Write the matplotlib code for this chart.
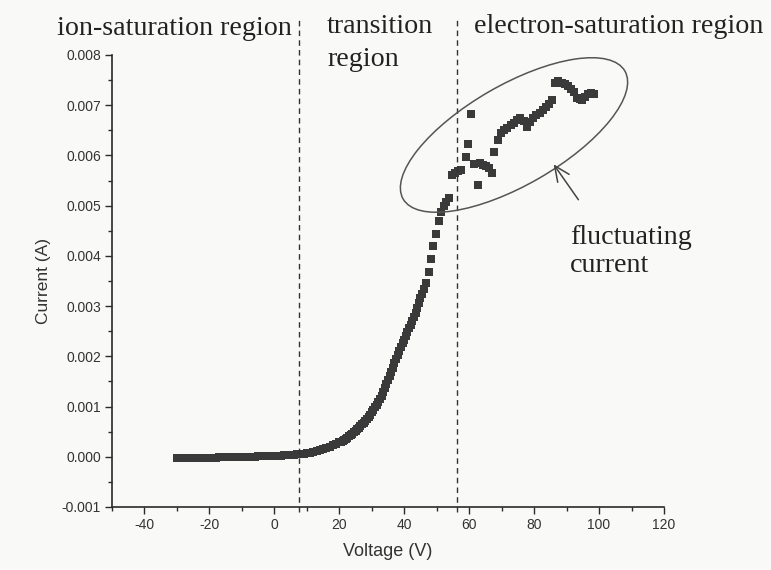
import matplotlib
matplotlib.use("Agg")
import matplotlib.pyplot as plt
from matplotlib.patches import Ellipse, FancyArrowPatch
from matplotlib.ticker import MultipleLocator, FuncFormatter

plt.rcParams['axes.unicode_minus'] = False
plt.rcParams['font.family'] = ['Liberation Sans', 'DejaVu Sans']

# ---- data ----
voltage_sweep = [-30, -29, -28, -27, -26, -25, -24, -23, -22, -21,
                 -20, -19, -18, -17, -16, -15, -14, -13, -12, -11,
                 -10, -9, -8, -7, -6, -5, -4, -3, -2, -1,
                 0, 1, 2, 3, 4, 5, 6, 7, 8, 9,
                 10, 11, 12, 13, 14, 15, 16, 17, 18, 19,
                 20, 20.5, 21, 21.5, 22, 22.5, 23, 23.5, 24, 24.5,
                 25, 25.5, 26, 26.5, 27, 27.5, 28, 28.5, 29, 29.5,
                 30, 30.5, 31, 31.5, 32, 32.5, 33, 33.5, 34, 34.5,
                 35, 35.5, 36, 36.5, 37, 37.5, 38, 38.5, 39, 39.5,
                 40, 40.5, 41, 41.5, 42, 42.5, 43, 43.5, 44, 44.5,
                 45, 45.5, 46, 46.6]
current_sweep = [-0.00003, -0.00003, -0.00003, -0.00003, -0.00003, -0.00003, -0.00002, -0.00002, -0.00002, -0.00002,
                 -0.00002, -0.00002, -0.00002, -0.00001, -0.00001, -0.00001, -0.00001, -0.00001, -0.00001, 0.0,
                 0.0, 0.0, 0.0, 0.0, 0.0, 0.00001, 0.00001, 0.00001, 0.00001, 0.00001,
                 0.00002, 0.00002, 0.00002, 0.00003, 0.00003, 0.00004, 0.00004, 0.00005, 0.00005, 0.00006,
                 0.00007, 0.00008, 0.0001, 0.00012, 0.00014, 0.00016, 0.00018, 0.0002, 0.00023, 0.00026,
                 0.00029, 0.0003, 0.00032, 0.00034, 0.00036, 0.00038, 0.00041, 0.00043, 0.00046, 0.00049,
                 0.00052, 0.00055, 0.00058, 0.00061, 0.00065, 0.00068, 0.00072, 0.00076, 0.0008, 0.00084,
                 0.00089, 0.00094, 0.00099, 0.00104, 0.0011, 0.00116, 0.00122, 0.00129, 0.00137, 0.00145,
                 0.00153, 0.00161, 0.00169, 0.00177, 0.00186, 0.00194, 0.00202, 0.0021, 0.00218, 0.00226,
                 0.00233, 0.00241, 0.00248, 0.00256, 0.00263, 0.00271, 0.00279, 0.00287, 0.00296, 0.00306,
                 0.00316, 0.00325, 0.00335, 0.00347]

voltage_high = [47.5, 48.2, 49.0, 49.8, 50.7, 51.4, 52.2, 53.0, 53.8, 54.7,
                55.6, 56.6, 57.5, 58.9, 59.6, 60.5, 61.6, 62.6, 63.3, 64.3,
                65.2, 66.1, 67.0, 67.6, 68.8, 69.8, 70.8, 71.8, 72.8, 73.8,
                74.8, 75.8, 76.8, 77.7, 78.7, 79.7, 80.7, 81.7, 82.6, 83.6,
                84.6, 85.5, 86.5, 87.5, 88.5, 89.5, 90.5, 91.4, 92.3, 93.1,
                94.0, 94.8, 95.7, 96.6, 97.5, 98.3]
current_high = [0.00367, 0.00393, 0.0042, 0.00443, 0.0047, 0.00487, 0.005, 0.00508, 0.00515, 0.00562,
                0.00566, 0.0057, 0.00572, 0.00597, 0.00622, 0.00682, 0.00582, 0.00541, 0.00584, 0.0058,
                0.00578, 0.00575, 0.00566, 0.00607, 0.0063, 0.00645, 0.0065, 0.00654, 0.0066, 0.00665,
                0.0067, 0.00674, 0.00668, 0.00657, 0.00666, 0.00674, 0.0068, 0.00685, 0.0069, 0.00697,
                0.00703, 0.0071, 0.00745, 0.00748, 0.00745, 0.00743, 0.00738, 0.00733, 0.00726, 0.00714,
                0.00712, 0.0071, 0.00716, 0.00722, 0.00725, 0.00722]

region_bounds = [7.7, 56.3]
x_ticks = [-40, -20, 0, 20, 40, 60, 80, 100, 120]
y_ticks = [-0.001, 0.0, 0.001, 0.002, 0.003, 0.004, 0.005, 0.006, 0.007, 0.008]

# ---- figure ----
W, H = 7.71, 5.70
fig = plt.figure(figsize=(W, H), dpi=100, facecolor='#f9f9f7')
ax = fig.add_axes([112/771, 1-507/570, (664-112)/771, (507-55)/570])
ax.set_facecolor('none')

mk = dict(marker='s', linestyle='none', color='#3a3a3a', markersize=5.6, markeredgewidth=0)
ax.plot(voltage_sweep, current_sweep, **mk)
ax.plot(voltage_high, current_high, **mk)

for xb in region_bounds:
    ax.axvline(xb, ymin=-0.012, ymax=1.078, clip_on=False, color='#333333',
               lw=1.0, dashes=(4, 3))

ax.set_xlim(-50, 120)
ax.set_ylim(-0.001, 0.008)
ax.set_xticks(x_ticks)
ax.set_yticks(y_ticks)
ax.xaxis.set_minor_locator(MultipleLocator(10))
ax.yaxis.set_minor_locator(MultipleLocator(0.0005))
ax.xaxis.set_major_formatter(FuncFormatter(lambda v, p: f"{v:.0f}"))
ax.yaxis.set_major_formatter(FuncFormatter(lambda v, p: f"{v:.3f}"))

for s in ['top', 'right']:
    ax.spines[s].set_visible(False)
for s in ['left', 'bottom']:
    ax.spines[s].set_color('#2a2a2a')
    ax.spines[s].set_linewidth(1.2)

ax.tick_params(which='major', direction='out', length=5, width=1.0, color='#2a2a2a',
               labelsize=10, labelcolor='#333333', pad=3)
ax.tick_params(which='minor', direction='out', length=3, width=1.0, color='#2a2a2a')

ax.set_xlabel('Voltage (V)', fontsize=13, color='#333333', labelpad=8)
ax.set_ylabel('Current (A)', fontsize=12.5, color='#333333', labelpad=8)

serif = dict(family='Liberation Serif', fontsize=20.2, color='#222222')
px = lambda x, y: (x / 771, 1 - y / 570)
fig.text(*px(57, 35), 'ion-saturation region', **serif)
fig.text(*px(327, 33), 'transition', **serif)
fig.text(*px(327, 66), 'region', **serif)
fig.text(*px(474, 33), 'electron-saturation region', **serif)
fig.text(*px(570, 244), 'fluctuating', **serif)
fig.text(*px(570, 272), 'current', **serif)

ell = Ellipse((5.14, H - 1.35), 2.56, 1.0, angle=30, transform=fig.dpi_scale_trans,
              fill=False, edgecolor='#555555', lw=1.1)
fig.patches.append(ell)

fig.patches.append(FancyArrowPatch(
    (5.80, H - 2.02), (5.52, H - 1.62), transform=fig.dpi_scale_trans,
    arrowstyle='->,head_length=11,head_width=5', color='#444444', lw=1.1,
    mutation_scale=1))

fig.savefig('out.png', dpi=100, facecolor=fig.get_facecolor())
